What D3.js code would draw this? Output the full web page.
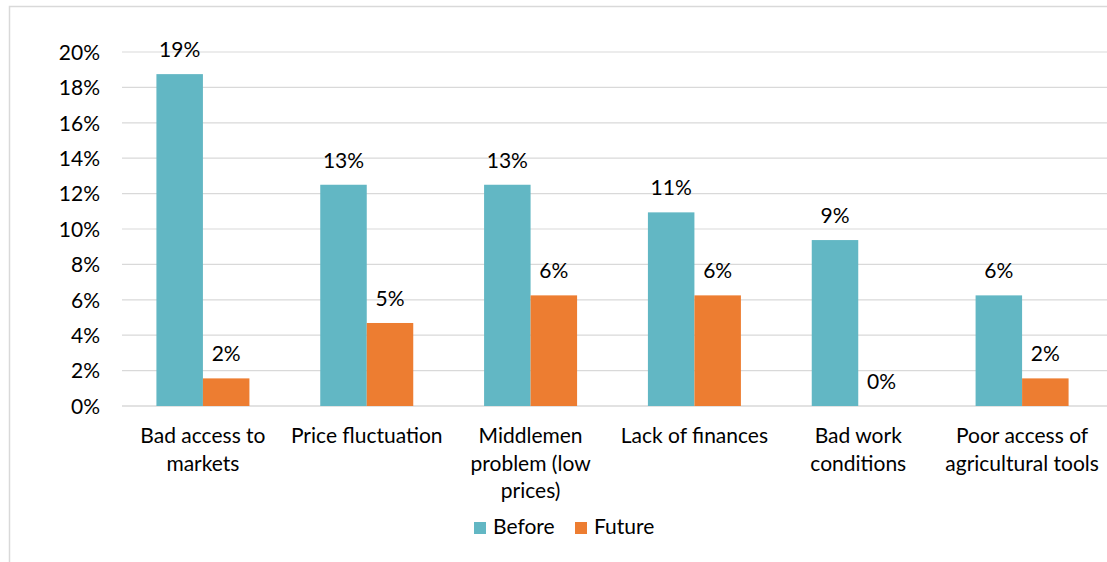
<!DOCTYPE html>
<html>
<head>
<meta charset="utf-8">
<script src="https://cdn.jsdelivr.net/npm/d3@7"></script>
<style>
  body { margin: 0; background: #fff; }
  svg text { font-family: Lato, "Open Sans", sans-serif; fill: #000; }
</style>
</head>
<body>
<div id="chart"></div>
<script>
const categories = [
  ["Bad access to", "markets"],
  ["Price fluctuation"],
  ["Middlemen", "problem (low", "prices)"],
  ["Lack of finances"],
  ["Bad work", "conditions"],
  ["Poor access of", "agricultural tools"]
];
const before = [18.75, 12.5, 12.5, 10.94, 9.375, 6.25];
const future = [1.56, 4.69, 6.25, 6.25, 0, 1.56];
const seriesNames = ["Before", "Future"];
const yTicks = [0, 2, 4, 6, 8, 10, 12, 14, 16, 18, 20];

const w = 1107, h = 562;
const plotLeft = 121, plotRight = 1104, plotTop = 52, plotBottom = 406;
const colors = ["#62B7C4", "#ED7D31"];
const fontSize = "21px";

const svg = d3.select("#chart").append("svg")
  .attr("width", w)
  .attr("height", h);

// chart frame
svg.append("rect")
  .attr("x", 9.5).attr("y", 6.5)
  .attr("width", 1120).attr("height", 600)
  .attr("fill", "none")
  .attr("stroke", "#D9D9D9")
  .attr("stroke-width", 1.5);

const x = d3.scaleBand()
  .domain(d3.range(categories.length))
  .range([plotLeft, plotRight]);

const yScale = d3.scaleLinear()
  .domain([0, 20])
  .range([plotBottom, plotTop]);

const barW = 46.5;

// gridlines
svg.append("g")
  .selectAll("line")
  .data(yTicks)
  .enter()
  .append("line")
  .attr("x1", plotLeft + 1).attr("x2", w)
  .attr("y1", d => yScale(d)).attr("y2", d => yScale(d))
  .attr("stroke", "#D9D9D9")
  .attr("stroke-width", d => d === 0 ? 1.5 : 1.2);

// y axis
const yAxis = d3.axisLeft(yScale)
  .tickValues(yTicks)
  .tickFormat(d => d + "%")
  .tickSize(0)
  .tickPadding(21);

svg.append("g")
  .attr("transform", `translate(${plotLeft}, 0)`)
  .call(yAxis)
  .call(g => g.select(".domain").remove())
  .call(g => g.selectAll("text").style("font-size", fontSize).attr("dy", "0.35em"));

const data = categories.map((c, i) => ({ i, values: [before[i], future[i]] }));

const groups = svg.append("g")
  .selectAll("g")
  .data(data)
  .enter()
  .append("g")
  .attr("transform", d => `translate(${x(d.i) + x.bandwidth() / 2}, 0)`);

groups.selectAll("rect")
  .data(d => d.values.map((v, k) => ({ v, k })))
  .enter()
  .append("rect")
  .attr("x", d => d.k === 0 ? -barW : 0)
  .attr("width", barW)
  .attr("y", d => yScale(d.v))
  .attr("height", d => yScale(0) - yScale(d.v))
  .attr("fill", d => colors[d.k]);

groups.selectAll("text.val")
  .data(d => d.values.map((v, k) => ({ v, k })))
  .enter()
  .append("text")
  .attr("class", "val")
  .attr("x", d => d.k === 0 ? -barW / 2 : barW / 2)
  .attr("y", d => yScale(d.v) - 17)
  .attr("text-anchor", "middle")
  .style("font-size", fontSize)
  .text(d => Math.round(d.v) + "%");

// category labels
groups.append("text")
  .attr("text-anchor", "middle")
  .style("font-size", fontSize)
  .selectAll("tspan")
  .data(d => categories[d.i])
  .enter()
  .append("tspan")
  .attr("x", 0)
  .attr("y", (d, j) => 443 + j * 27.5)
  .text(d => d);

// legend
const legend = svg.append("g")
  .attr("transform", "translate(474, 534)");

const items = legend.selectAll("g")
  .data(seriesNames)
  .enter()
  .append("g")
  .attr("transform", (d, i) => `translate(${i * 101}, 0)`);

items.append("rect")
  .attr("x", 0).attr("y", -12)
  .attr("width", 12).attr("height", 12)
  .attr("fill", (d, i) => colors[i]);

items.append("text")
  .attr("x", 19)
  .attr("y", 0)
  .style("font-size", fontSize)
  .text(d => d);
</script>
</body>
</html>
